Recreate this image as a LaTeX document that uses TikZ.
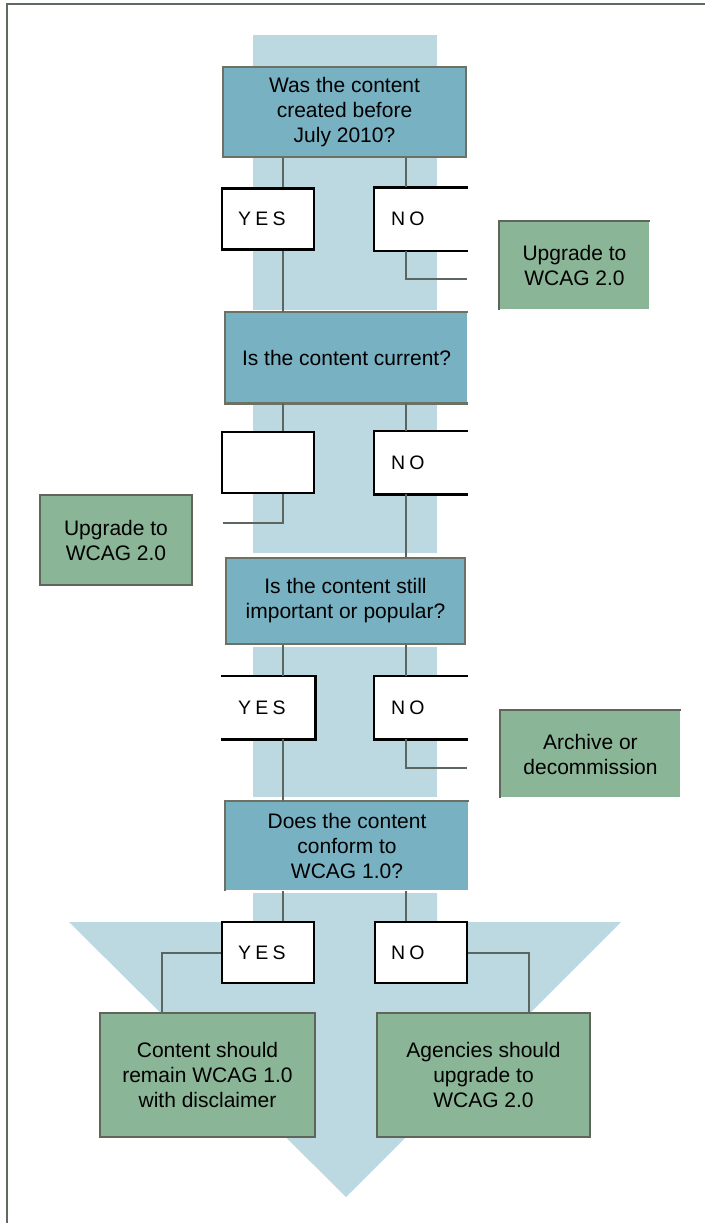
\documentclass[tikz,border=0pt]{standalone}
\usepackage{fontspec}
\setmainfont{Liberation Sans}
\newfontfamily\choicefont[LetterSpace=22]{Liberation Sans}
\usepackage{tikz}
\definecolor{bandblue}{HTML}{BCD9E2}
\definecolor{askblue}{HTML}{78B1C2}
\definecolor{askedge}{HTML}{6B7263}
\definecolor{actgreen}{HTML}{8AB597}
\definecolor{actedge}{HTML}{5F6659}
\definecolor{linkgray}{HTML}{5B6660}
\definecolor{framegray}{HTML}{5F6B5F}

\begin{document}
\begin{tikzpicture}[x=1pt, y=-1pt,
	ask/.style={rectangle, fill=askblue, line width=2.5pt, align=center,
		font=\fontsize{21}{25}\selectfont},
	choice/.style={rectangle, fill=white, draw=black, line width=2.5pt,
		minimum height=61pt, text width=60pt, inner xsep=16pt, align=left,
		font=\choicefont\fontsize{19.5}{20}\selectfont},
	act/.style={rectangle, fill=actgreen, line width=2.5pt, align=center,
		font=\fontsize{21}{25}\selectfont},
	askline/.style={draw=askedge, line width=2.5pt},
	actline/.style={draw=actedge, line width=2.5pt},
	boxline/.style={draw=black, line width=2.5pt},
	link/.style={draw=linkgray, line width=2pt}]
	\useasboundingbox (0,0) rectangle (705,1223);
	\draw[framegray, line width=2.5pt] (7,1223) -- (7,4) -- (705,4);

	% light column and the big arrow
	\fill[bandblue] (253,35) rectangle (437,310);
	\fill[bandblue] (253,405) rectangle (437,553);
	\fill[bandblue] (253,647) rectangle (437,797);
	\fill[bandblue] (253,893) -- (437,893) -- (437,922) -- (621,922)
		-- (346,1197) -- (69,922) -- (253,922) -- cycle;

	% first question
	\node[ask, draw=askedge, minimum width=243pt, minimum height=90pt] (q1) at (344.5,112) {Was the content\\created before\\July 2010?};
	\node[choice] (yes1) at (268,219) {YES};
	\node[choice, draw=none] (no1) at (421,219) {NO};
	\node[act, minimum width=149pt, minimum height=87pt] (up1) at (574.5,265.5) {Upgrade to\\WCAG 2.0};
	\coordinate (cut1) at (467,279);

	% second question
	\node[ask, minimum width=241pt, minimum height=89pt] (q2) at (346.5,357.5) {Is the content current?};
	\node[choice] (yes2) at (268,462.5) {};
	\node[choice, draw=none] (no2) at (421,462.5) {NO};
	\node[act, draw=actedge, minimum width=152pt, minimum height=90pt] (up2) at (116,540) {Upgrade to\\WCAG 2.0};
	\coordinate (cut2) at (223,523);

	% third question
	\node[ask, draw=askedge, minimum width=239pt, minimum height=86pt] (q3) at (345.5,601) {Is the content still\\important or popular?};
	\node[choice, draw=none] (yes3) at (268,707.5) {YES};
	\node[choice, draw=none] (no3) at (421,707.5) {NO};
	\node[act, minimum width=179pt, minimum height=86pt] (arch) at (590.5,754) {Archive or\\decommission};
	\coordinate (cut3) at (467,768);

	% fourth question
	\node[ask, minimum width=242pt, minimum height=88pt] (q4) at (347,846) {Does the content\\conform to\\WCAG 1.0?};
	\node[choice] (yes4) at (268,952.5) {YES};
	\node[choice] (no4) at (421,952.5) {NO};
	\node[act, draw=actedge, minimum width=215pt, minimum height=124pt] (res1) at (207.5,1075) {Content should\\remain WCAG 1.0\\with disclaimer};
	\node[act, draw=actedge, minimum width=213pt, minimum height=124pt] (res2) at (483.5,1075) {Agencies should\\upgrade to\\WCAG 2.0};

	% cut-off edges
	\draw[askline] (q2.north east) -- (q2.north west) -- (q2.south west) -- (q2.south east);
	\draw[askline] (q4.south west) -- (q4.north west) -- (q4.north east);
	\draw[actline] (up1.south west) -- (up1.north west) -- (up1.north east);
	\draw[actline] (arch.south west) -- (arch.north west) -- (arch.north east);
	\draw[boxline] (no1.north east) -- (no1.north west) -- (no1.south west) -- (no1.south east);
	\draw[boxline] (no2.north east) -- (no2.north west) -- (no2.south west) -- (no2.south east);
	\draw[boxline] (no3.north east) -- (no3.north west) -- (no3.south west) -- (no3.south east);
	\draw[boxline] (yes3.north west) -- (yes3.north east) -- (yes3.south east) -- (yes3.south west);

	\draw[link] ([xshift=15pt]yes1.north |- q1.south) -- ([xshift=15pt]yes1.north);
	\draw[link] ([xshift=-15pt]no1.north |- q1.south) -- ([xshift=-15pt]no1.north);
	\draw[link] ([xshift=15pt]yes1.south) -- ([xshift=15pt]yes1.south |- q2.north);
	\draw[link] ([xshift=-15pt]no1.south) |- (cut1);

	\draw[link] ([xshift=15pt]yes2.north |- q2.south) -- ([xshift=15pt]yes2.north);
	\draw[link] ([xshift=-15pt]no2.north |- q2.south) -- ([xshift=-15pt]no2.north);
	\draw[link] ([xshift=15pt]yes2.south) |- (cut2);
	\draw[link] ([xshift=-15pt]no2.south) -- ([xshift=-15pt]no2.south |- q3.north);

	\draw[link] ([xshift=15pt]yes3.north |- q3.south) -- ([xshift=15pt]yes3.north);
	\draw[link] ([xshift=-15pt]no3.north |- q3.south) -- ([xshift=-15pt]no3.north);
	\draw[link] ([xshift=15pt]yes3.south) -- ([xshift=15pt]yes3.south |- q4.north);
	\draw[link] ([xshift=-15pt]no3.south) |- (cut3);

	\draw[link] ([xshift=15pt]yes4.north |- q4.south) -- ([xshift=15pt]yes4.north);
	\draw[link] ([xshift=-15pt]no4.north |- q4.south) -- ([xshift=-15pt]no4.north);
	\draw[link] (yes4.west) -| ([xshift=-46pt]res1.north);
	\draw[link] (no4.east) -| ([xshift=45pt]res2.north);
\end{tikzpicture}
\end{document}
